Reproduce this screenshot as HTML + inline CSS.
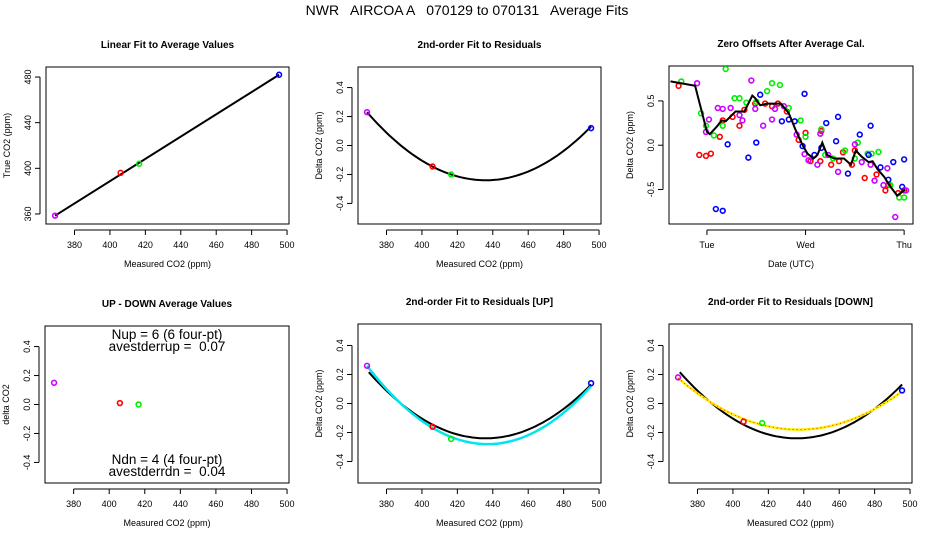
<!DOCTYPE html>
<html><head><meta charset="utf-8">
<style>
body{margin:0;background:#fff;}
svg{display:block;font-family:"Liberation Sans",Arial,sans-serif;}
text{white-space:pre;}
</style></head>
<body>
<svg id="c" width="936" height="540" xmlns="http://www.w3.org/2000/svg">
<rect width="936" height="540" fill="#fff"/>
<text x="467" y="15" font-size="14" text-anchor="middle">NWR   AIRCOA A   070129 to 070131   Average Fits</text>
</svg>
<script>
// ---- data ----
const calMeasured = [369, 406, 416.5, 495.5];
const calTrue = [358.5, 396, 404, 482];
const calColors = ['#cc00ff', '#ff0000', '#00ee00', '#0000ff'];
const residAll = [0.23, -0.145, -0.2, 0.12];
const residUp = [0.26, -0.16, -0.245, 0.14];
const residDown = [0.18, -0.125, -0.135, 0.09];
const upDownX = [369, 406, 416.5];
const upDownY = [0.15, 0.01, 0.0];
const fitAll = [1.047e-4, 436, -0.24];
const fitUp = [1.168e-4, 437, -0.28];
const fitDown = [7.68e-5, 437, -0.18];
const co2Ticks = [380, 400, 420, 440, 460, 480, 500];
const trueTicks = [360, 400, 440, 480];
const residTicks = [-0.4, -0.2, 0.0, 0.2, 0.4];
const zeroTicks = [-0.5, 0.0, 0.5];
const dayTicks = [1, 2, 3];
const dayLabels = ['Tue', 'Wed', 'Thu'];
const redT = [0.712,0.922,0.99,1.04,1.13,1.16,1.26,1.33,1.38,1.49,1.59,1.66,1.72,1.81,1.93,2.0,2.05,2.15,2.16,2.26,2.34,2.38,2.47,2.50,2.60,2.72,2.81,2.84,2.94,3.0];
const redV = [0.67,-0.11,-0.12,-0.095,0.095,0.28,0.32,0.22,0.40,0.47,0.47,0.44,0.47,0.38,0.06,0.14,-0.18,-0.18,0.16,-0.22,-0.18,-0.08,-0.22,-0.06,-0.37,-0.33,-0.51,-0.45,-0.54,-0.51];
const greenT = [0.74,0.94,0.99,1.07,1.16,1.19,1.28,1.33,1.40,1.50,1.61,1.66,1.74,1.83,1.95,2.0,2.16,2.20,2.28,2.40,2.50,2.53,2.63,2.67,2.74,2.86,2.95,3.0];
const greenV = [0.72,0.36,0.22,0.11,0.22,0.86,0.53,0.53,0.48,0.49,0.61,0.70,0.68,0.42,0.28,0.095,0.18,-0.11,-0.15,-0.06,-0.15,0.03,-0.095,-0.095,-0.076,-0.45,-0.59,-0.59];
const blueT = [1.09,1.16,1.21,1.42,1.50,1.54,1.76,1.83,1.89,1.99,1.97,2.09,2.16,2.21,2.31,2.33,2.43,2.55,2.64,2.66,2.76,2.84,2.89,2.98,3.0];
const blueV = [-0.72,-0.74,0.01,-0.14,0.03,0.57,0.27,0.29,0.27,0.58,-0.01,-0.11,-0.03,0.25,0.045,0.32,-0.32,0.12,-0.11,0.22,-0.25,-0.39,-0.19,-0.47,-0.16];
const purpleT = [0.90,1.02,0.99,1.11,1.16,1.24,1.33,1.36,1.45,1.49,1.57,1.66,1.69,1.78,1.91,1.99,2.03,2.12,2.15,2.23,2.33,2.50,2.57,2.66,2.70,2.79,2.83,2.91,3.02];
const purpleV = [0.70,0.29,0.15,0.42,0.41,0.42,0.34,0.28,0.73,0.41,0.22,0.29,0.41,0.44,0.12,-0.10,-0.17,-0.22,0.13,-0.11,-0.30,0.01,-0.19,-0.22,-0.40,-0.45,-0.26,-0.81,-0.51];
const avgT = [0.63,0.88,1.0,1.03,1.10,1.15,1.19,1.29,1.38,1.46,1.49,1.54,1.61,1.75,1.83,1.90,1.97,2.02,2.08,2.12,2.17,2.22,2.29,2.39,2.46,2.51,2.57,2.64,2.68,2.73,2.80,2.85,2.93,3.01];
const avgV = [0.72,0.67,0.15,0.125,0.21,0.28,0.27,0.38,0.38,0.56,0.53,0.45,0.47,0.47,0.36,0.17,0.0,-0.095,-0.15,-0.11,0.03,-0.11,-0.15,-0.15,-0.22,-0.06,-0.13,-0.19,-0.18,-0.27,-0.36,-0.45,-0.57,-0.50];

// ---- helpers ----
const svg = document.getElementById('c');
const NS = 'http://www.w3.org/2000/svg';
function mk(tag, attrs, parent) {
  const e = document.createElementNS(NS, tag);
  for (const k in attrs) e.setAttribute(k, attrs[k]);
  (parent || svg).appendChild(e);
  return e;
}
function txt(x, y, s, size, parent, extra) {
  const t = mk('text', Object.assign({x: x, y: y, 'font-size': size, 'text-anchor': 'middle'}, extra || {}), parent);
  t.textContent = s;
  return t;
}
function panel(name, L, T, R, B, x0, x1, y0, y1, title, xlab, ylab) {
  const g = mk('g', {});
  
  
  const sx = v => L + (v - x0) / (x1 - x0) * (R - L);
  const sy = v => B - (v - y0) / (y1 - y0) * (B - T);
  const box = mk('rect', {x: L, y: T, width: R - L, height: B - T, fill: 'none', stroke: '#000', 'stroke-width': 1}, g);
  
  
  const tt = txt((L + R) / 2, T - 19, title, 10, g, {'font-weight': 'bold'});
  
  
  const xl = txt((L + R) / 2, B + 43, xlab, 9, g);
  
  
  const yl = txt(0, 0, ylab, 9, g, {transform: 'translate(' + (L - 36) + ',' + ((T + B) / 2) + ') rotate(-90)'});
  
  
  return {g: g, sx: sx, sy: sy, L: L, T: T, R: R, B: B};
}
function xAxis(p, ticks, labels) {
  const a = mk('g', {}, p.g);
  
  
  const yb = p.B + 6;
  mk('line', {x1: p.sx(ticks[0]), x2: p.sx(ticks[ticks.length - 1]), y1: yb, y2: yb, stroke: '#000'}, a);
  ticks.forEach((v, i) => {
    mk('line', {x1: p.sx(v), x2: p.sx(v), y1: yb, y2: yb + 5, stroke: '#000'}, a);
    const t = txt(p.sx(v), yb + 18, labels ? labels[i] : String(v), 9, a);
    
    
  });
}
function yAxis(p, ticks, fmt) {
  const a = mk('g', {}, p.g);
  
  
  const xb = p.L - 6;
  mk('line', {x1: xb, x2: xb, y1: p.sy(ticks[0]), y2: p.sy(ticks[ticks.length - 1]), stroke: '#000'}, a);
  ticks.forEach(v => {
    mk('line', {x1: xb - 5, x2: xb, y1: p.sy(v), y2: p.sy(v), stroke: '#000'}, a);
    const t = txt(0, 0, fmt(v), 9, a, {transform: 'translate(' + (xb - 9) + ',' + p.sy(v) + ') rotate(-90)'});
    
    
  });
}
function pts(p, xs, ys, colors, name) {
  xs.forEach((x, i) => {
    const c = mk('circle', {cx: p.sx(x), cy: p.sy(ys[i]), r: 2.4, fill: 'none', stroke: Array.isArray(colors) ? colors[i] : colors, 'stroke-width': 1.6}, p.g);
    
    
  });
}
function quad(p, f, xa, xb, color, w, name, dash) {
  let d = '';
  for (let k = 0; k <= 60; k++) {
    const x = xa + (xb - xa) * k / 60;
    const y = f[0] * (x - f[1]) * (x - f[1]) + f[2];
    d += (k ? 'L' : 'M') + p.sx(x).toFixed(1) + ',' + p.sy(y).toFixed(1);
  }
  const e = mk('path', {d: d, fill: 'none', stroke: color, 'stroke-width': w}, p.g);
  if (dash) e.setAttribute('stroke-dasharray', dash);
  
  
  return e;
}
const f1 = v => v.toFixed(1);
const f0 = v => String(v);
const rX0 = 363.9, rX1 = 501.1, rY0 = -0.542, rY1 = 0.542;

// Panel 1: linear fit
const p1 = panel('linear-fit-panel', 46, 67, 289, 224, rX0, rX1, 351.2, 488.8, 'Linear Fit to Average Values', 'Measured CO2 (ppm)', 'True CO2 (ppm)');
xAxis(p1, co2Ticks); yAxis(p1, trueTicks, f0);
const slope = (calTrue[3] - calTrue[0]) / (calMeasured[3] - calMeasured[0]);
const lf = mk('line', {x1: p1.sx(calMeasured[0]), y1: p1.sy(calTrue[0]), x2: p1.sx(calMeasured[3]), y2: p1.sy(calTrue[0] + slope * (calMeasured[3] - calMeasured[0])), stroke: '#000', 'stroke-width': 2}, p1.g);


pts(p1, calMeasured, calTrue, calColors, 'calibration-point');

// Panel 2: 2nd-order fit
const p2 = panel('residual-fit-panel', 358, 67, 601, 224, rX0, rX1, rY0, rY1, '2nd-order Fit to Residuals', 'Measured CO2 (ppm)', 'Delta CO2 (ppm)');
xAxis(p2, co2Ticks); yAxis(p2, residTicks, f1);
quad(p2, fitAll, 369, 495.5, '#000', 2, 'quadratic-fit-curve');
pts(p2, calMeasured, residAll, calColors, 'residual-point');

// Panel 3: zero offsets
const p3 = panel('zero-offsets-panel', 669, 66, 913, 224, 0.615, 3.09, -0.889, 0.894, 'Zero Offsets After Average Cal.', 'Date (UTC)', 'Delta CO2 (ppm)');
xAxis(p3, dayTicks, dayLabels); yAxis(p3, zeroTicks, f1);
pts(p3, redT, redV, '#ff0000', 'zero-offset-red');
pts(p3, greenT, greenV, '#00ee00', 'zero-offset-green');
pts(p3, blueT, blueV, '#0000ff', 'zero-offset-blue');
pts(p3, purpleT, purpleV, '#cc00ff', 'zero-offset-purple');
let ad = '';
avgT.forEach((t, i) => { ad += (i ? 'L' : 'M') + p3.sx(t).toFixed(1) + ',' + p3.sy(avgV[i]).toFixed(1); });
const al = mk('path', {d: ad, fill: 'none', stroke: '#000', 'stroke-width': 2}, p3.g);



// Panel 4: UP - DOWN
const p4 = panel('up-down-panel', 45, 326, 289, 483, rX0, rX1, rY0, rY1, 'UP - DOWN Average Values', 'Measured CO2 (ppm)', 'delta CO2');
xAxis(p4, co2Ticks); yAxis(p4, residTicks, f1);
pts(p4, upDownX, upDownY, calColors.slice(0, 3), 'up-down-point');
[['Nup = 6 (6 four-pt)', 339], ['avestderrup =  0.07', 351], ['Ndn = 4 (4 four-pt)', 464], ['avestderrdn =  0.04', 476]].forEach(a => {
  const t = txt(167, a[1], a[0], 13.5, p4.g);
  
  
});

// Panel 5: UP
const p5 = panel('up-fit-panel', 358, 324, 601, 483, rX0, rX1, -0.548, 0.548, '2nd-order Fit to Residuals [UP]', 'Measured CO2 (ppm)', 'Delta CO2 (ppm)');
xAxis(p5, co2Ticks); yAxis(p5, residTicks, f1);
quad(p5, fitAll, 370, 495.5, '#000', 2, 'overall-fit-curve');
quad(p5, fitUp, 369, 495.5, '#00e5ee', 2.5, 'up-fit-curve');
pts(p5, calMeasured, residUp, calColors, 'up-residual-point');

// Panel 6: DOWN
const p6 = panel('down-fit-panel', 669, 324, 912, 483, rX0, rX1, -0.548, 0.548, '2nd-order Fit to Residuals [DOWN]', 'Measured CO2 (ppm)', 'Delta CO2 (ppm)');
xAxis(p6, co2Ticks); yAxis(p6, residTicks, f1);
quad(p6, fitAll, 370, 495.5, '#000', 2, 'overall-fit-curve');
quad(p6, fitDown, 369, 495.5, '#ffee00', 2.5, 'down-fit-curve');
quad(p6, fitDown, 369, 495.5, '#ff2200', 1, 'down-fit-curve-dots', '1 3');
pts(p6, calMeasured, residDown, calColors, 'down-residual-point');
</script>
</body></html>
